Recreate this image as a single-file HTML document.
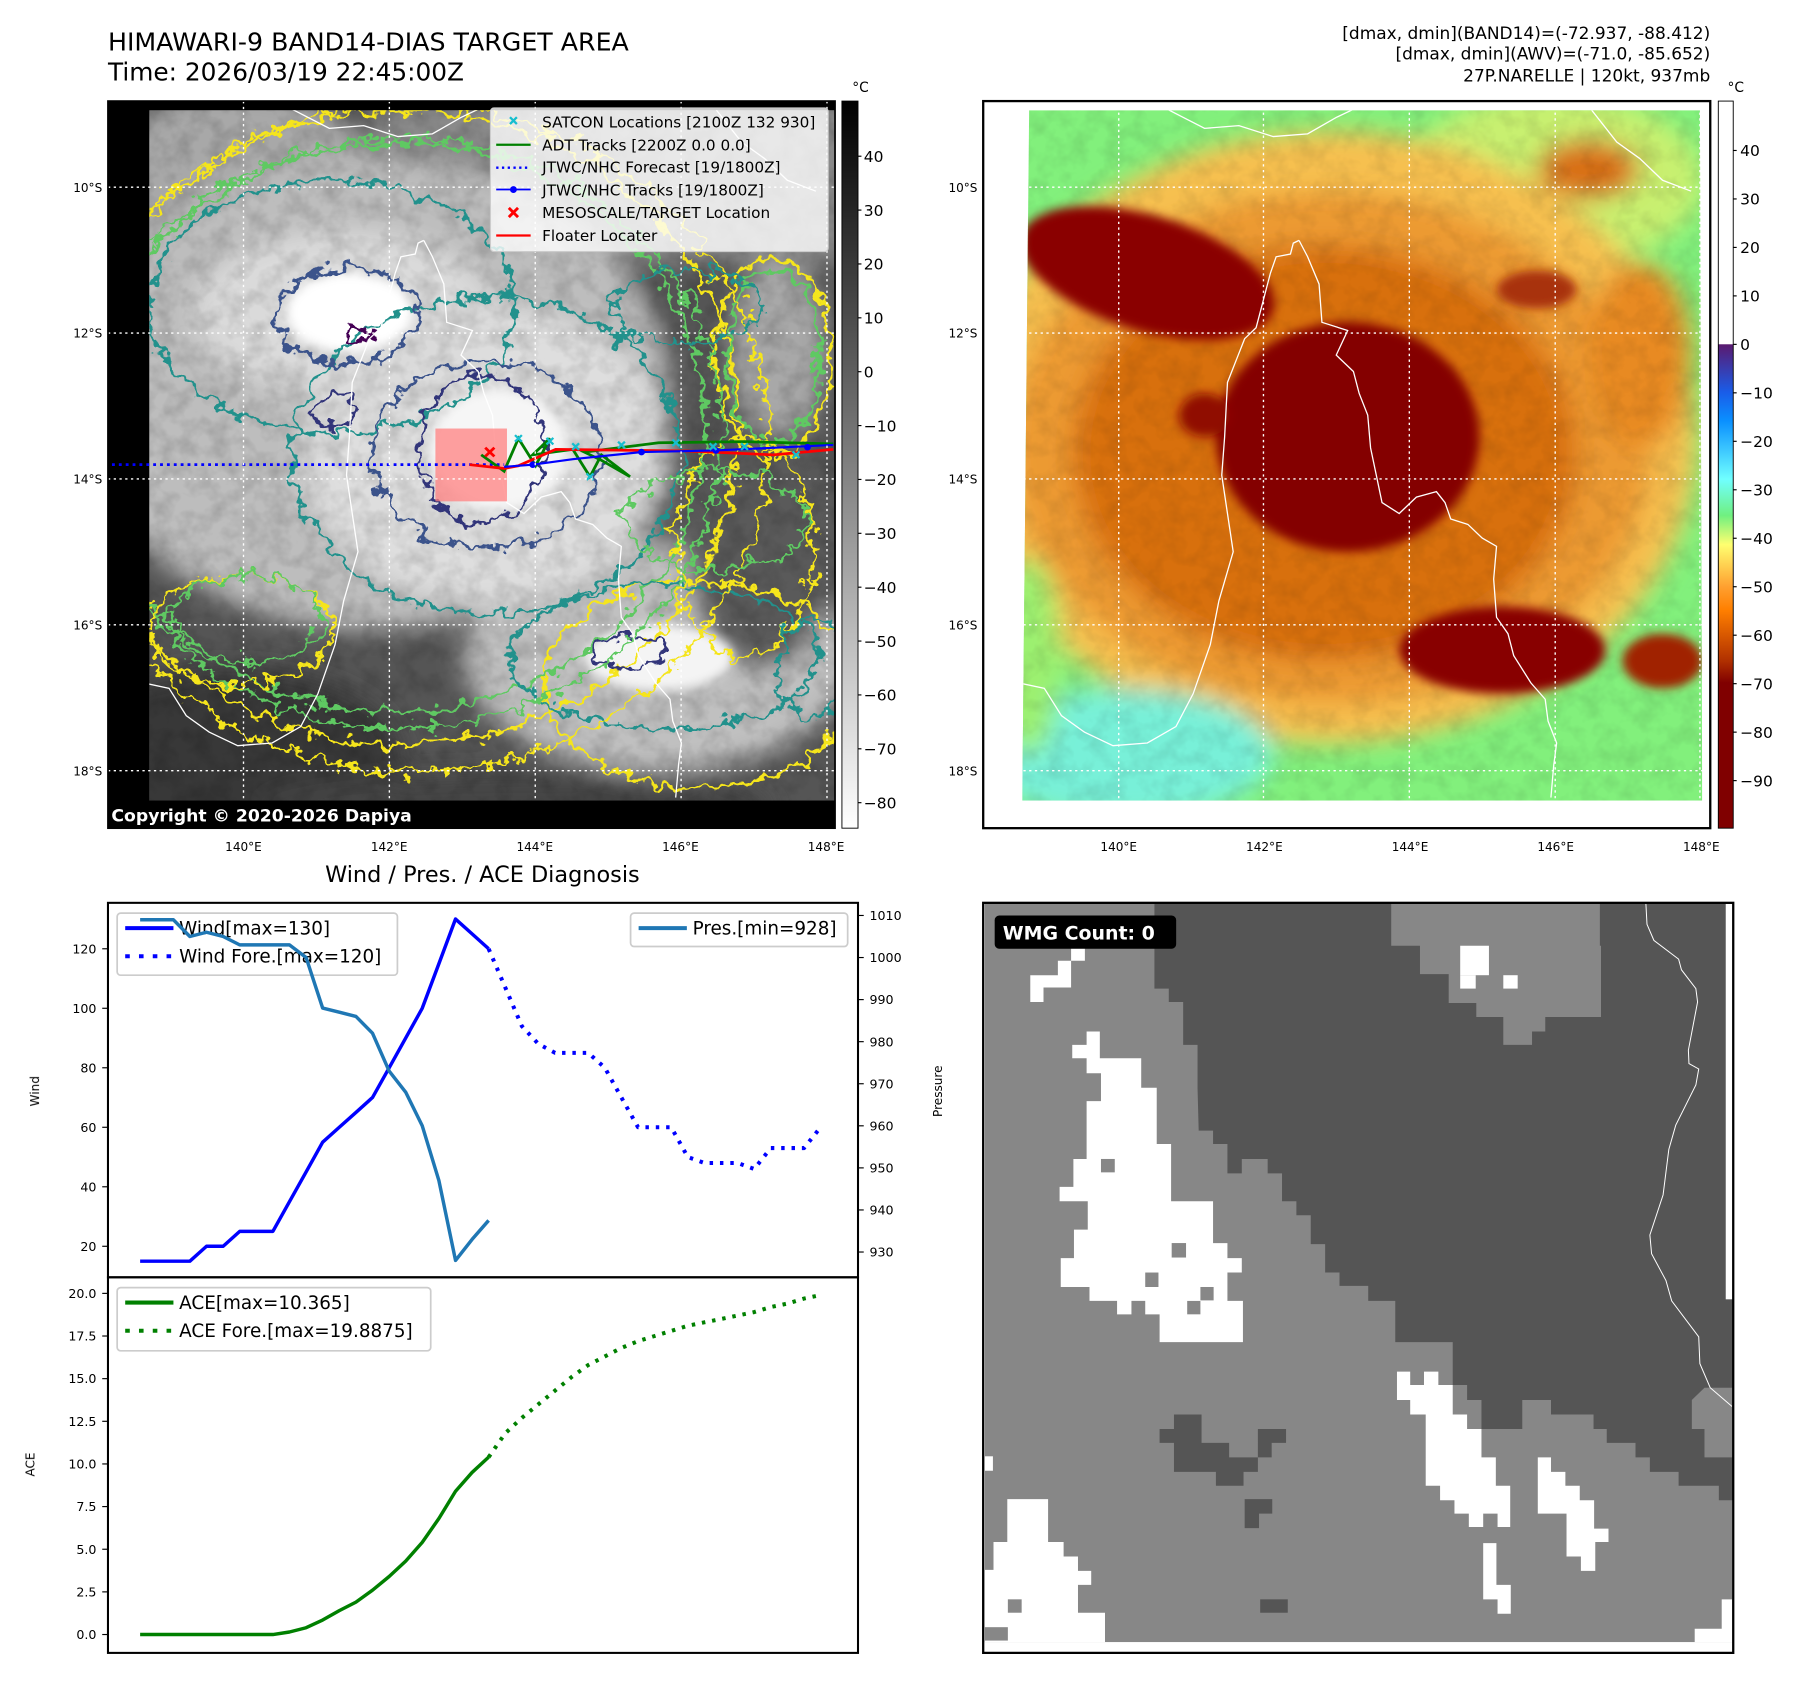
<!DOCTYPE html>
<html><head><meta charset="utf-8"><title>HIMAWARI-9 BAND14-DIAS TARGET AREA</title>
<style>
html,body{margin:0;padding:0;background:#fff;}
svg{display:block;font-family:"DejaVu Sans","Liberation Sans",sans-serif;}
</style></head>
<body>
<svg id="root" width="1801" height="1690" viewBox="0 0 1568 1471.3" preserveAspectRatio="none" xmlns="http://www.w3.org/2000/svg">
<defs>
  <filter id="blur" x="-20%" y="-20%" width="140%" height="140%"><feGaussianBlur stdDeviation="22"/></filter>
  <filter id="blurS" x="-20%" y="-20%" width="140%" height="140%"><feGaussianBlur stdDeviation="9"/></filter>
  <filter id="wob" x="-10%" y="-10%" width="120%" height="120%">
    <feTurbulence type="fractalNoise" baseFrequency="0.035" numOctaves="3" seed="4" result="n"/>
    <feDisplacementMap in="SourceGraphic" in2="n" scale="45" xChannelSelector="R" yChannelSelector="G"/>
  </filter>
  <filter id="wob2" x="-10%" y="-10%" width="120%" height="120%">
    <feTurbulence type="fractalNoise" baseFrequency="0.04" numOctaves="3" seed="11" result="n"/>
    <feDisplacementMap in="SourceGraphic" in2="n" scale="55" xChannelSelector="R" yChannelSelector="G"/>
  </filter>
  <filter id="tex" x="0" y="0" width="100%" height="100%">
    <feTurbulence type="fractalNoise" baseFrequency="0.03" numOctaves="3" seed="7"/>
    <feColorMatrix type="matrix" values="0 0 0 0 0  0 0 0 0 0  0 0 0 0 0  1.2 0 0 0 -0.45"/>
  </filter>
  <clipPath id="clipTL"><rect x="94" y="88" width="633" height="633"/></clipPath>
  <clipPath id="clipTLdata"><rect x="130" y="96" width="597" height="601"/></clipPath>
  <clipPath id="clipTR"><polygon points="896,96 1480,96 1482,697 890,697"/></clipPath>
  <clipPath id="clipBR"><rect x="856" y="786" width="653" height="653"/></clipPath>
  <linearGradient id="gGray" x1="0" y1="0" x2="0" y2="1">
    <stop offset="0" stop-color="#000"/><stop offset="1" stop-color="#fff"/>
  </linearGradient>
  <linearGradient id="gJet" x1="0" y1="0" x2="0" y2="1">
    <stop offset="0" stop-color="#fff"/><stop offset="0.334" stop-color="#fff"/>
    <stop offset="0.335" stop-color="#5a1a70"/><stop offset="0.40" stop-color="#1a5ce8"/>
    <stop offset="0.44" stop-color="#0a90ff"/><stop offset="0.52" stop-color="#70ffff"/>
    <stop offset="0.57" stop-color="#70f080"/><stop offset="0.61" stop-color="#ffff70"/>
    <stop offset="0.668" stop-color="#ffa030"/><stop offset="0.70" stop-color="#ff7f00"/>
    <stop offset="0.77" stop-color="#b03000"/><stop offset="0.80" stop-color="#800000"/>
    <stop offset="1" stop-color="#800000"/>
  </linearGradient>
</defs>

<text x="94" y="44" font-size="22">HIMAWARI-9 BAND14-DIAS TARGET AREA</text>
<text x="94" y="70" font-size="21.6">Time: 2026/03/19 22:45:00Z</text>
<g font-size="14.8" text-anchor="end">
  <text x="1489" y="34">[dmax, dmin](BAND14)=(-72.937, -88.412)</text>
  <text x="1489" y="52">[dmax, dmin](AWV)=(-71.0, -85.652)</text>
  <text x="1489" y="71">27P.NARELLE | 120kt, 937mb</text>
</g>

<!-- ============ TOP LEFT MAP ============ -->
<g>
  <rect x="94" y="88" width="633" height="633" fill="#000"/>
  <g clip-path="url(#clipTLdata)">
    <g transform="matrix(0.4984 0 0 0.4767 0.3 0.3)">
      <rect x="200" y="150" width="1300" height="1400" fill="#555"/>
      <g filter="url(#blur)">
        <rect x="650" y="180" width="850" height="300" fill="#8a8a8a"/>
        <ellipse cx="420" cy="380" rx="260" ry="220" fill="#a8a8a8"/>
        <ellipse cx="650" cy="720" rx="520" ry="430" fill="#bdbdbd"/>
        <ellipse cx="1150" cy="1200" rx="340" ry="210" fill="#c0c0c0"/>
        <ellipse cx="1360" cy="640" rx="85" ry="170" fill="#a8a8a8"/>
        <ellipse cx="1330" cy="1000" rx="130" ry="220" fill="#5a5a5a"/>
        <ellipse cx="400" cy="1380" rx="300" ry="160" fill="#383838"/>
        <ellipse cx="900" cy="1470" rx="450" ry="60" fill="#454545"/>
        <ellipse cx="850" cy="830" rx="320" ry="270" fill="#dedede"/>
        <ellipse cx="600" cy="570" rx="260" ry="150" fill="#dadada"/>
      </g>
      <rect x="200" y="150" width="1300" height="1400" filter="url(#tex)" opacity="0.25"/>
      <g filter="url(#blurS)">
        <ellipse cx="610" cy="570" rx="110" ry="72" fill="#fff"/>
        <ellipse cx="870" cy="820" rx="120" ry="110" fill="#f6f6f6"/>
        <ellipse cx="1150" cy="1200" rx="130" ry="60" fill="#f4f4f4"/>
      </g>
      <g fill="none" stroke-width="6" filter="url(#wob)">
        <ellipse cx="700" cy="780" rx="590" ry="580" stroke="#f5e51a"/>
        <ellipse cx="1220" cy="1250" rx="270" ry="190" stroke="#f5e51a"/>
        <ellipse cx="1350" cy="650" rx="100" ry="180" stroke="#f5e51a"/>
        <ellipse cx="690" cy="780" rx="540" ry="520" stroke="#5ec962"/>
        <ellipse cx="1350" cy="650" rx="80" ry="160" stroke="#5ec962"/>
        <ellipse cx="580" cy="560" rx="320" ry="230" stroke="#21918c"/>
        <ellipse cx="850" cy="830" rx="340" ry="290" stroke="#21918c"/>
        <ellipse cx="1160" cy="1200" rx="270" ry="130" stroke="#21918c"/>
        <ellipse cx="605" cy="575" rx="125" ry="88" stroke="#3b528b"/>
        <ellipse cx="850" cy="830" rx="200" ry="170" stroke="#3b528b"/>
        <ellipse cx="840" cy="820" rx="110" ry="135" stroke="#31357a"/>
        <ellipse cx="585" cy="750" rx="35" ry="30" stroke="#31357a"/>
        <ellipse cx="1100" cy="1190" rx="60" ry="30" stroke="#31357a"/>
        <ellipse cx="630" cy="612" rx="32" ry="10" stroke="#440154"/>
      </g>
      <g fill="none" stroke-width="6" filter="url(#wob2)">
        <ellipse cx="720" cy="800" rx="620" ry="610" stroke="#f5e51a"/>
        <ellipse cx="700" cy="790" rx="560" ry="540" stroke="#5ec962"/>
        <ellipse cx="1300" cy="1000" rx="120" ry="200" stroke="#f5e51a"/>
        <ellipse cx="420" cy="1150" rx="160" ry="100" stroke="#f5e51a"/>
        <ellipse cx="430" cy="1130" rx="130" ry="80" stroke="#5ec962"/>
        <ellipse cx="1200" cy="560" rx="130" ry="70" stroke="#21918c"/>
        <ellipse cx="1420" cy="1220" rx="60" ry="90" stroke="#21918c"/>
        <ellipse cx="1250" cy="950" rx="160" ry="90" stroke="#5ec962"/>
      </g>
    </g>
  </g>
  <g clip-path="url(#clipTLdata)">
    <g transform="matrix(0.4984 0 0 0.4756 17.6 0)" fill="none" stroke="#fff" stroke-width="1.3">
      <polyline vector-effect="non-scaling-stroke" points="475,200 540,235 600,230 660,250 720,245 770,215 800,200"/>
      <polyline vector-effect="non-scaling-stroke" points="705,440 695,445 690,465 665,470 655,500 640,560 630,600 610,620 595,660 580,700 575,800 570,870 580,940 590,1010 565,1100 550,1180 520,1270 490,1330 440,1360 380,1365 330,1340 290,1310 260,1260 215,1250"/>
      <polyline vector-effect="non-scaling-stroke" points="705,440 720,470 740,520 745,590 790,605 770,650 800,680 810,720 825,760 830,820 840,870 850,920 880,940 910,910 945,900 960,920 970,950 1000,960 1025,985 1050,1000 1045,1060 1050,1130 1070,1160 1080,1200 1110,1250 1135,1280 1140,1320 1155,1360 1150,1400 1145,1460"/>
      <polyline vector-effect="non-scaling-stroke" points="1215,200 1260,260 1300,290 1340,330 1390,350"/>
    </g>
  </g>
  <g clip-path="url(#clipTL)">
    <g transform="matrix(0.4984 0 0 0.4767 0.3 0.3)">
      <rect x="760" y="782" width="125" height="133" fill="#ff8080" opacity="0.75"/>
      <line x1="195" y1="848" x2="880" y2="848" stroke="#0000ff" stroke-width="5" stroke-dasharray="5,7"/>
      <polyline fill="none" stroke="#008000" stroke-width="5" points="840,830 880,860 905,800 935,850 960,800 930,830 1000,820 1030,870 1050,830 1100,870 1050,840 1020,825 1150,808 1300,806 1455,810"/>
      <polyline fill="none" stroke="#ff0000" stroke-width="5" points="820,848 880,855 905,850 970,820 1200,823 1350,830 1455,820"/>
      <polyline fill="none" stroke="#0000ff" stroke-width="4" points="880,852 930,848 1000,838 1120,825 1250,822 1455,812"/>
      <g fill="#0000ff"><circle cx="930" cy="848" r="6"/><circle cx="1120" cy="825" r="6"/><circle cx="1250" cy="822" r="6"/><circle cx="1410" cy="816" r="6"/></g>
      <g stroke="#17becf" stroke-width="4">
        <path d="M899,794l12,12m0,-12l-12,12M954,799l12,12m0,-12l-12,12M999,809l12,12m0,-12l-12,12M1024,864l12,12m0,-12l-12,12M1079,806l12,12m0,-12l-12,12M1174,802l12,12m0,-12l-12,12M1239,809l12,12m0,-12l-12,12M1294,809l12,12m0,-12l-12,12M1384,824l12,12m0,-12l-12,12"/>
      </g>
      <path d="M847,817l16,16m0,-16l-16,16" stroke="#ff0000" stroke-width="5"/>
    </g>
  </g>
  <g stroke="#fff" stroke-width="1.2" stroke-dasharray="2,3">
    <line x1="212" y1="88" x2="212" y2="721"/><line x1="339" y1="88" x2="339" y2="721"/><line x1="466" y1="88" x2="466" y2="721"/><line x1="593" y1="88" x2="593" y2="721"/><line x1="720" y1="88" x2="720" y2="721"/>
    <line x1="94" y1="163" x2="727" y2="163"/><line x1="94" y1="290" x2="727" y2="290"/><line x1="94" y1="417" x2="727" y2="417"/><line x1="94" y1="544" x2="727" y2="544"/><line x1="94" y1="671" x2="727" y2="671"/>
  </g>
  <g>
    <rect x="427" y="94" width="294" height="125" rx="3" fill="#fff" fill-opacity="0.8" stroke="#ccc"/>
    <g font-size="13.3">
      <text x="472" y="111">SATCON Locations [2100Z 132 930]</text>
      <text x="472" y="131">ADT Tracks [2200Z 0.0 0.0]</text>
      <text x="472" y="150">JTWC/NHC Forecast [19/1800Z]</text>
      <text x="472" y="170">JTWC/NHC Tracks [19/1800Z]</text>
      <text x="472" y="190">MESOSCALE/TARGET Location</text>
      <text x="472" y="210">Floater Locater</text>
    </g>
    <path d="M444,102l6,6m0,-6l-6,6" stroke="#17becf" stroke-width="2"/>
    <line x1="432" y1="126" x2="462" y2="126" stroke="#008000" stroke-width="2"/>
    <line x1="432" y1="146" x2="462" y2="146" stroke="#0000ff" stroke-width="2" stroke-dasharray="2,3"/>
    <line x1="432" y1="165" x2="462" y2="165" stroke="#0000ff" stroke-width="1.5"/><circle cx="447" cy="165" r="3" fill="#0000ff"/>
    <path d="M443,181l8,8m0,-8l-8,8" stroke="#ff0000" stroke-width="2.5"/>
    <line x1="432" y1="205" x2="462" y2="205" stroke="#ff0000" stroke-width="2"/>
  </g>
  <rect x="94" y="697" width="633" height="24" fill="#000"/>
  <text x="97" y="715" font-size="15" font-weight="bold" fill="#fff">Copyright © 2020-2026 Dapiya</text>
  <rect x="94" y="88" width="633" height="633" fill="none" stroke="#000" stroke-width="1.5"/>
</g>
<g>
  <rect x="733" y="88" width="14" height="633" fill="url(#gGray)" stroke="#000" stroke-width="0.8"/>
  <text x="742" y="80" font-size="12">°C</text>
  <g id="cbTL" font-size="13.5"></g>
</g>

<!-- ============ TOP RIGHT MAP ============ -->
<g>
  <g clip-path="url(#clipTR)">
    <g transform="matrix(0.4984 0 0 0.4756 779.6 0)">
      <rect x="200" y="180" width="1220" height="1300" fill="#82f07c"/>
      <g filter="url(#blur)">
        <ellipse cx="1150" cy="330" rx="260" ry="160" fill="#c8f070"/>
        <ellipse cx="760" cy="800" rx="640" ry="560" fill="#f6c050"/>
        <ellipse cx="760" cy="820" rx="560" ry="470" fill="#ec9a30"/>
        <ellipse cx="1300" cy="650" rx="90" ry="170" fill="#e88a20"/>
        <ellipse cx="1210" cy="310" rx="90" ry="55" fill="#d87018"/>
        <ellipse cx="750" cy="830" rx="440" ry="380" fill="#d87010"/>
        <ellipse cx="400" cy="1380" rx="260" ry="120" fill="#78f0d8"/>
        <ellipse cx="230" cy="1200" rx="60" ry="180" fill="#9cf070"/>
      </g>
      <rect x="200" y="180" width="1220" height="1300" filter="url(#tex)" opacity="0.15"/>
      <g filter="url(#blurS)">
        <ellipse cx="440" cy="500" rx="230" ry="105" transform="rotate(18 440 500)" fill="#8a0400"/>
        <ellipse cx="790" cy="800" rx="230" ry="210" fill="#840000"/>
        <ellipse cx="1060" cy="1190" rx="180" ry="80" fill="#880000"/>
        <ellipse cx="1340" cy="1210" rx="70" ry="50" fill="#a02000"/>
        <ellipse cx="540" cy="760" rx="45" ry="40" fill="#900800"/>
        <ellipse cx="1120" cy="530" rx="70" ry="35" fill="#a83008"/>
      </g>
      <g fill="none" stroke="#fff" stroke-width="1.3">
        <polyline vector-effect="non-scaling-stroke" points="475,200 540,235 600,230 660,250 720,245 770,215 800,200"/>
        <polyline vector-effect="non-scaling-stroke" points="705,440 695,445 690,465 665,470 655,500 640,560 630,600 610,620 595,660 580,700 575,800 570,870 580,940 590,1010 565,1100 550,1180 520,1270 490,1330 440,1360 380,1365 330,1340 290,1310 260,1260 215,1250"/>
        <polyline vector-effect="non-scaling-stroke" points="705,440 720,470 740,520 745,590 790,605 770,650 800,680 810,720 825,760 830,820 840,870 850,920 880,940 910,910 945,900 960,920 970,950 1000,960 1025,985 1050,1000 1045,1060 1050,1130 1070,1160 1080,1200 1110,1250 1135,1280 1140,1320 1155,1360 1150,1400 1145,1460"/>
        <polyline vector-effect="non-scaling-stroke" points="1215,200 1260,260 1300,290 1340,330 1390,350"/>
      </g>
    </g>
  </g>
  <g stroke="#fff" stroke-width="1.2" stroke-dasharray="2,3">
    <line x1="974" y1="88" x2="974" y2="721"/><line x1="1100" y1="88" x2="1100" y2="721"/><line x1="1227" y1="88" x2="1227" y2="721"/><line x1="1354" y1="88" x2="1354" y2="721"/><line x1="1480" y1="88" x2="1480" y2="721"/>
    <line x1="856" y1="163" x2="1489" y2="163"/><line x1="856" y1="290" x2="1489" y2="290"/><line x1="856" y1="417" x2="1489" y2="417"/><line x1="856" y1="544" x2="1489" y2="544"/><line x1="856" y1="671" x2="1489" y2="671"/>
  </g>
  <rect x="856" y="88" width="633" height="633" fill="none" stroke="#000" stroke-width="2"/>
</g>
<g>
  <rect x="1496" y="88" width="13" height="633" fill="url(#gJet)" stroke="#000" stroke-width="0.8"/>
  <text x="1504" y="80" font-size="12">°C</text>
  <g id="cbTR" font-size="13.5"></g>
</g>
<g id="geoTicks" font-size="10.5"></g>

<!-- ============ BOTTOM LEFT CHART ============ -->
<text x="420" y="768" font-size="19.5" text-anchor="middle">Wind / Pres. / ACE Diagnosis</text>
<g id="chart"></g>

<!-- ============ BOTTOM RIGHT WMG ============ -->
<g clip-path="url(#clipBR)">
  <rect x="856" y="786" width="653" height="653" fill="#fff"/>
  <g transform="matrix(0.5004 0 0 0.4664 783.4 739.4)">
    <rect x="148" y="100" width="1300" height="1380" fill="#878787"/>
    <polygon fill="#555" points="443,100 443,260 468,260 468,285 493,285 493,365 518,365 518,445 520,525 545,525 545,550 570,550 570,605 595,605 595,578 640,578 640,605 665,605 665,657 690,657 690,683 715,683 715,737 740,737 740,790 765,790 765,815 815,815 815,843 862,843 862,920 962,920 962,1000 987,1000 987,1028 1012,1028 1012,1082 1083,1082 1083,1028 1133,1028 1133,1055 1207,1055 1207,1082 1230,1082 1230,1108 1280,1108 1280,1135 1305,1135 1305,1162 1355,1162 1355,1188 1425,1188 1425,1215 1450,1215 1450,100"/>
    <polygon fill="#878787" points="855,100 1218,100 1218,180 1243,180 1243,180 1220,180 1220,313 1123,313 1123,340 1100,340 1100,365 1050,365 1050,313 1003,313 1003,287 955,287 955,233 905,233 905,180 855,180"/>
    <polygon fill="#878787" points="1378,1028 1400,1005 1450,1005 1450,1135 1400,1135 1400,1082 1378,1082"/>
    <g fill="#fff">
      <rect x="975" y="180" width="50" height="55"/><rect x="975" y="235" width="27" height="25"/><rect x="1050" y="235" width="25" height="25"/>
      <polygon points="227,235 275,235 275,208 298,208 298,258 250,258 250,285 227,285"/><rect x="298" y="185" width="24" height="23"/>
      <polygon points="325,340 348,340 348,390 420,390 420,445 447,445 447,550 472,550 472,657 545,657 545,735 570,735 570,763 595,763 595,790 570,790 570,843 597,843 597,920 452,920 452,868 427,868 427,843 403,843 403,868 378,868 378,843 330,843 330,817 280,817 280,763 303,763 303,710 327,710 327,657 278,657 278,630 302,630 302,578 325,578 325,470 350,470 350,418 325,418 325,390 300,390 300,365 325,365"/>
      <polygon points="187,1213 258,1213 258,1293 285,1293 285,1320 310,1320 310,1347 333,1347 333,1373 310,1373 310,1425 357,1425 357,1480 148,1480 148,1345 163,1345 163,1293 187,1293"/>
      <rect x="148" y="1133" width="14" height="27"/>
      <polygon points="865,975 888,975 888,1000 912,1000 912,975 937,975 937,1000 962,1000 962,1055 987,1055 987,1082 1012,1082 1012,1135 1037,1135 1037,1188 1062,1188 1062,1265 1040,1265 1040,1240 1015,1240 1015,1265 990,1265 990,1240 965,1240 965,1215 940,1215 940,1188 915,1188 915,1055 888,1055 888,1028 865,1028"/>
      <polygon points="1015,1295 1038,1295 1038,1373 1063,1373 1063,1427 1040,1427 1040,1400 1015,1400"/>
      <polygon points="1110,1135 1133,1135 1133,1162 1158,1162 1158,1188 1183,1188 1183,1215 1208,1215 1208,1268 1233,1268 1233,1293 1210,1293 1210,1347 1185,1347 1185,1320 1160,1320 1160,1240 1110,1240"/>
      <rect x="148" y="1480" width="1302" height="30"/>
      <polygon points="1383,1455 1430,1455 1430,1400 1450,1400 1450,1480 1383,1480"/>
      <rect x="1437" y="100" width="13" height="740"/>
    </g>
    <g fill="#878787"><rect x="350" y="578" width="24" height="25"/><rect x="473" y="735" width="25" height="27"/><rect x="427" y="790" width="23" height="27"/><rect x="523" y="817" width="23" height="25"/><rect x="500" y="843" width="23" height="25"/><rect x="188" y="1400" width="24" height="25"/><rect x="148" y="1452" width="40" height="25"/></g>
    <g fill="#555">
      <polygon points="452,1082 477,1082 477,1055 525,1055 525,1108 573,1108 573,1135 623,1135 623,1082 672,1082 672,1108 647,1108 647,1135 623,1135 623,1162 598,1162 598,1188 550,1188 550,1162 477,1162 477,1108 452,1108"/>
      <polygon points="600,1213 648,1213 648,1240 625,1240 625,1267 600,1267"/>
      <rect x="627" y="1400" width="48" height="25"/>
    </g>
    <polyline fill="none" stroke="#fff" stroke-width="1" vector-effect="non-scaling-stroke" points="1298,100 1300,140 1312,170 1355,205 1360,225 1385,260 1388,285 1372,375 1373,400 1390,410 1385,440 1350,515 1338,560 1328,645 1305,720 1308,755 1333,805 1343,843 1390,910 1392,960 1410,1005 1448,1040"/>
  </g>
</g>
<rect x="856" y="786" width="653" height="653" fill="none" stroke="#000" stroke-width="2"/>
<g>
  <rect x="866" y="797" width="158" height="29" rx="4" fill="#000"/>
  <text x="873" y="818" font-size="16.5" font-weight="bold" fill="#fff">WMG Count: 0</text>
</g>
</svg>

<script>
// ===== Chart data =====
const steps = [0,1,2,3,4,5,6,7,8,9,10,11,12,13,14,15,16,17,18,19,20,21,22,23,24,25,26,27,28,29,30,31,32,33,34,35,36,37,38,39,40,41];
const windObs = [15,15,15,15,20,20,25,25,25,35,45,55,60,65,70,80,90,100,115,130,125,120];
const windFore = [120,107,94,88,85,85,85,80,70,60,60,60,50,48,48,48,46,53,53,53,60];
const presObs = [1009,1009,1009,1005,1006,1005,1003,1003,1003,1003,1000,988,987,986,982,973,968,960,947,928,933,937.5];
const aceObs = [0,0,0,0,0,0,0,0,0,0.15,0.4,0.85,1.4,1.9,2.6,3.4,4.3,5.4,6.8,8.4,9.5,10.4];
const aceFore = [10.4,11.8,12.7,13.5,14.3,15.1,15.8,16.3,16.8,17.2,17.5,17.8,18.1,18.3,18.5,18.7,18.9,19.2,19.4,19.7,19.9];
const windTicks = [20,40,60,80,100,120];
const presTicks = [930,940,950,960,970,980,990,1000,1010];
const aceTicks = ["0.0","2.5","5.0","7.5","10.0","12.5","15.0","17.5","20.0"];
const irTicks = [40,30,20,10,0,-10,-20,-30,-40,-50,-60,-70,-80];
const awvTicks = [40,30,20,10,0,-10,-20,-30,-40,-50,-60,-70,-80,-90];
const latTicks = ["10°S","12°S","14°S","16°S","18°S"];
const lonTicks = ["140°E","142°E","144°E","146°E","148°E"];

const NS = "http://www.w3.org/2000/svg";
function mk(tag, attrs, parent){ const e=document.createElementNS(NS,tag); for(const k in attrs) e.setAttribute(k,attrs[k]); parent.appendChild(e); return e; }

const xS = i => 122 + i*14.45;
const yW = v => 1085 - (v-20)*(1085-826)/100;
const yP = v => 1090 - (v-930)*(1090-797)/80;
const yA = v => 1423 - v*(1423-1126)/20;

const chart = document.getElementById('chart');
let f1 = mk('rect',{x:94,y:786,width:653,height:326,fill:'none',stroke:'#000','stroke-width':1.8},chart);


let f2 = mk('rect',{x:94,y:1112,width:653,height:327,fill:'none',stroke:'#000','stroke-width':1.8},chart);



function tick(x1,y,dir,label,anchor,tx){
  const l = mk('line',{x1:x1,y1:y,x2:x1+dir*5,y2:y,stroke:'#000','stroke-width':1},chart);
  
  
  const t = mk('text',{x:tx,y:y+4,'font-size':11,'text-anchor':anchor},chart);
  
  
  t.textContent = label;
}
windTicks.forEach(v=>tick(94,yW(v),-1,String(v),'end',84));
presTicks.forEach(v=>tick(747,yP(v),1,String(v),'start',757));
aceTicks.forEach(s=>tick(94,yA(parseFloat(s)),-1,s,'end',84));

function axLabel(txt,x,y,name){
  const t = mk('text',{x:x,y:y,'font-size':10.5,'text-anchor':'middle',transform:`rotate(-90 ${x} ${y})`},chart);
  
  
  t.textContent=txt;
}
axLabel('Wind',34,950,'wind-axis-title');
axLabel('Pressure',820,950,'pressure-axis-title');
axLabel('ACE',30,1275,'ace-axis-title');

function legend(x,y,w,h,items,name){
  const g = mk('g',{},chart);
  
  
  mk('rect',{x:x,y:y,width:w,height:h,rx:3,fill:'#fff','fill-opacity':0.8,stroke:'#ccc','stroke-width':1.5},g);
  items.forEach((it,k)=>{
    const yy = y+13+k*24.5;
    const l = mk('line',{x1:x+7,y1:yy,x2:x+49,y2:yy,stroke:it[1],'stroke-width':3.5},g);
    if(it[2]) l.setAttribute('stroke-dasharray','4,8');
    const t = mk('text',{x:x+54,y:yy+5.5,'font-size':16},g);
    t.textContent = it[0];
  });
}
legend(102,795,244,54,[['Wind[max=130]','#0000ff',0],['Wind Fore.[max=120]','#0000ff',1]],'wind-legend');
legend(549,795,189,29,[['Pres.[min=928]','#1f77b4',0]],'pressure-legend');
legend(102,1121,273,55,[['ACE[max=10.365]','#008000',0],['ACE Fore.[max=19.8875]','#008000',1]],'ace-legend');

function line(vals, offset, yf, color, width, dash, name){
  const pts = vals.map((v,i)=>xS(steps[i+offset]).toFixed(1)+','+yf(v).toFixed(1)).join(' ');
  const p = mk('polyline',{points:pts,fill:'none',stroke:color,'stroke-width':width,'stroke-linejoin':'round'},chart);
  if(dash) p.setAttribute('stroke-dasharray',dash);
  
  
}
line(windObs,0,yW,'#0000ff',3,null,'wind-line');
line(windFore,21,yW,'#0000ff',3.5,'3,6','wind-forecast-line');
line(aceObs,0,yA,'#008000',3,null,'ace-line');
line(aceFore,21,yA,'#008000',3.5,'3,6','ace-forecast-line');
line(presObs,0,yP,'#1f77b4',3,null,'pressure-line');

const cbTL = document.getElementById('cbTL');
irTicks.forEach((v,i)=>{
  const y = 136 + i*46.9;
  const l = mk('line',{x1:747,y1:y,x2:750,y2:y,stroke:'#000'},cbTL);
  
  
  const t = mk('text',{x:752,y:y+5},cbTL);
  
  
  t.textContent = v<0 ? '\u2212'+(-v) : String(v);
});
const cbTR = document.getElementById('cbTR');
awvTicks.forEach((v,i)=>{
  const y = 131 + i*42.2;
  const l = mk('line',{x1:1509,y1:y,x2:1512,y2:y,stroke:'#000'},cbTR);
  
  
  const t = mk('text',{x:1515,y:y+5},cbTR);
  
  
  t.textContent = v<0 ? '\u2212'+(-v) : String(v);
});

const geo = document.getElementById('geoTicks');
latTicks.forEach((s,i)=>{
  const y = 163 + i*127;
  [89,851].forEach(x=>{
    const t = mk('text',{x:x,y:y+4,'text-anchor':'end'},geo);
    
    
    t.textContent = s;
  });
});
lonTicks.forEach((s,i)=>{
  [212,974].forEach(x0=>{
    const t = mk('text',{x:x0+i*126.8,y:741,'text-anchor':'middle'},geo);
    
    
    t.textContent = s;
  });
});
</script>
</body></html>
